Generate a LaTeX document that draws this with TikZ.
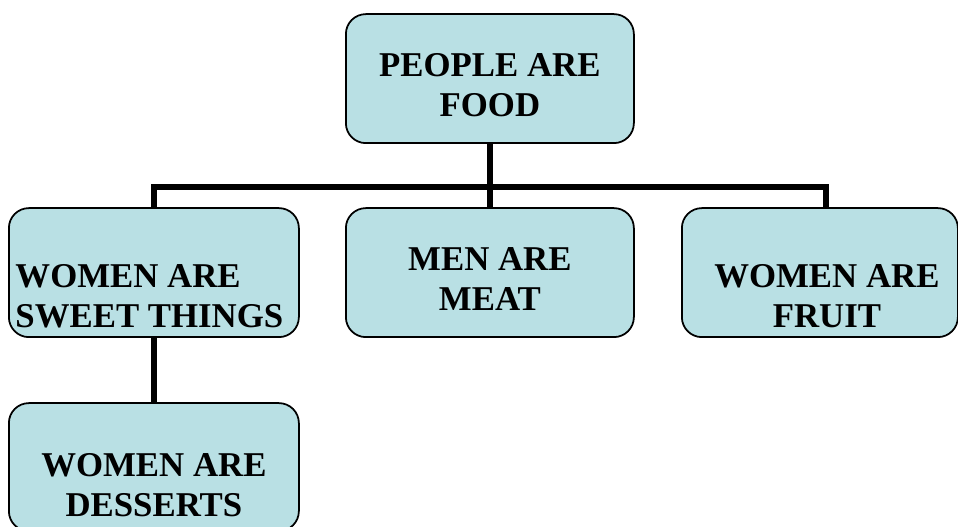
\documentclass[tikz,border=0pt]{standalone}
\usepackage{fontspec}
\setmainfont{Liberation Serif}
\definecolor{boxblue}{RGB}{185,224,228}
\begin{document}
\begin{tikzpicture}[
foodbox/.style={anchor=south west, fill=boxblue, rectangle, draw=black, line width=1pt, rounded corners=0.4cm, minimum height=2.58cm},
boxtext/.style={align=center, font=\fontsize{19.8}{22.8}\selectfont\bfseries},
link/.style={draw=black, line width=3.2pt},]

\useasboundingbox (0,0) rectangle (19.16,10.54);

\node (people) [foodbox, minimum width=5.76cm, label={[boxtext, yshift=-0.13cm]center:PEOPLE ARE\\FOOD}] at (6.9, 7.66) {};

\node (sweet) [foodbox, minimum width=5.8cm, label={[boxtext, align=left, xshift=-0.09cm, yshift=-0.47cm]center:WOMEN ARE\\SWEET THINGS}] at (0.16, 3.78) {};

\node (meat) [foodbox, minimum width=5.76cm, label={[boxtext, yshift=-0.13cm]center:MEN ARE\\MEAT}] at (6.9, 3.78) {};

\node (fruit) [foodbox, minimum width=5.52cm, label={[boxtext, xshift=0.14cm, yshift=-0.47cm]center:WOMEN ARE\\FRUIT}] at (13.62, 3.78) {};

\node (desserts) [foodbox, minimum width=5.8cm, minimum height=2.56cm, label={[boxtext, yshift=-0.36cm]center:WOMEN ARE\\DESSERTS}] at (0.16, -0.1) {};

\coordinate (bus) at (0, 6.8);
\coordinate (fruittop) at ([xshift=0.12cm]fruit.north);

\draw[link] (people.south) -- (people.south |- bus);
\draw[link] (sweet.north) |- (bus -| fruittop) -- (fruittop);
\draw[link] (meat.north) -- (meat.north |- bus);
\draw[link] (sweet.south) -- (desserts.north);

\end{tikzpicture}
\end{document}
